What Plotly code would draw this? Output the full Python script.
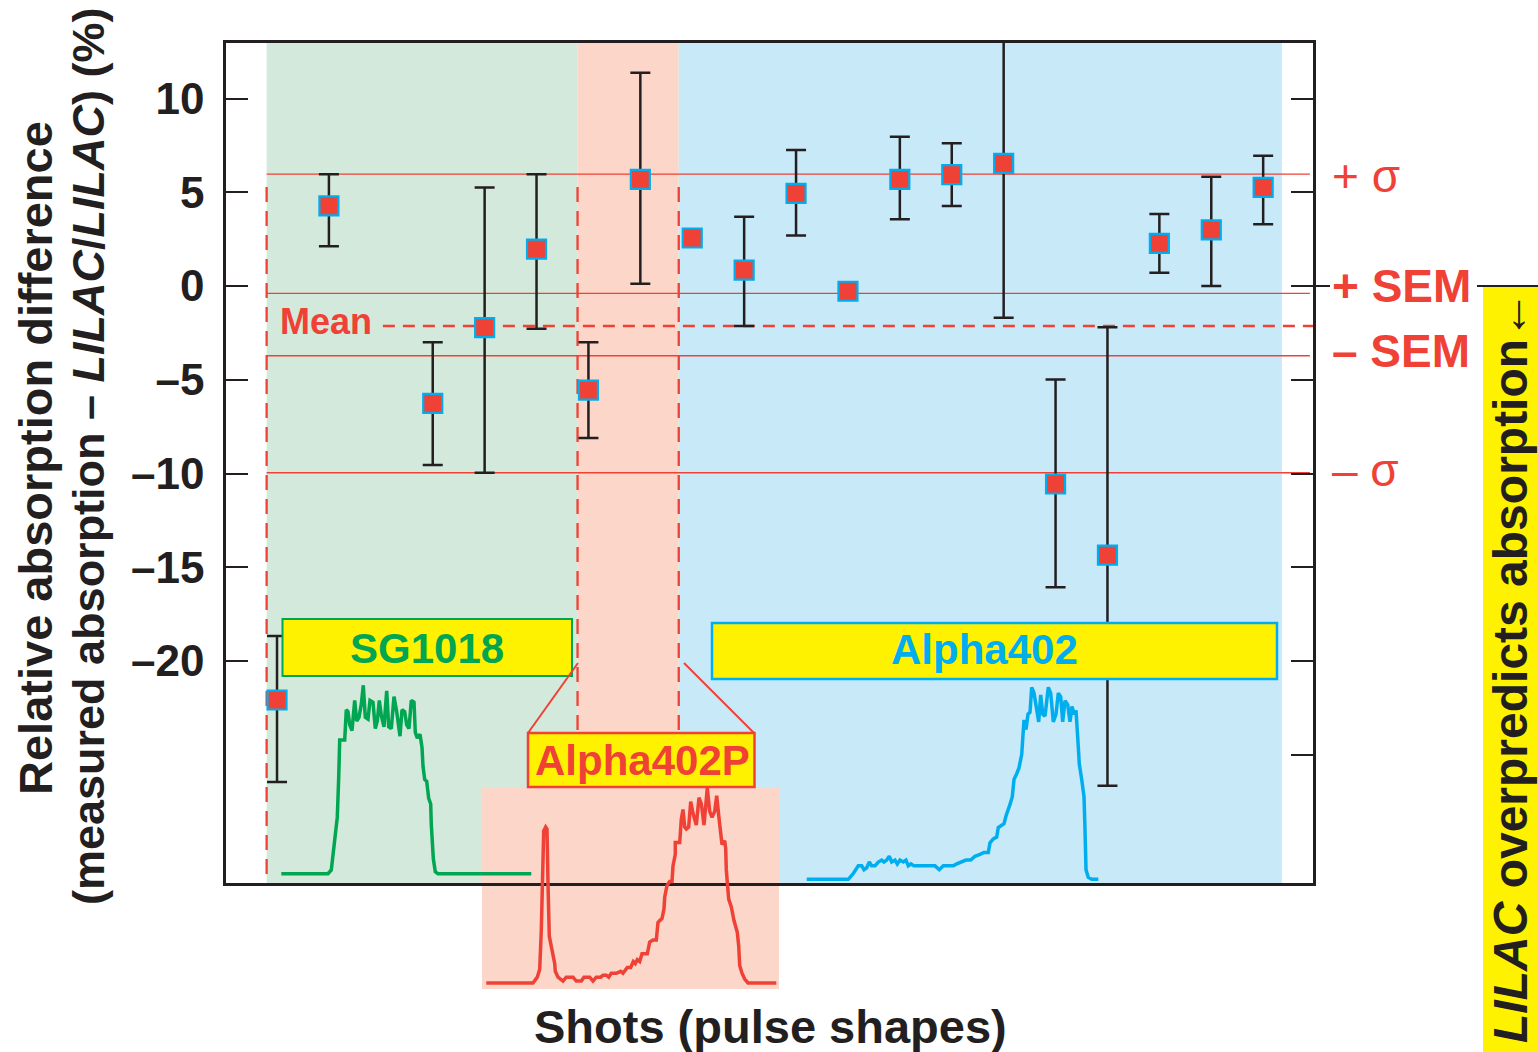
import plotly.graph_objects as go

W, H = 1538, 1052
FONT = "Liberation Sans, Arial, Helvetica, sans-serif"
INK = "#231F20"
RED = "#EF4136"
GREEN = "#00A651"
CYAN = "#00AEEF"
YELLOW = "#FFF200"
BG_GREEN = "#D3E9DB"
BG_PINK = "#FCD6C8"
BG_BLUE = "#C7E9F8"

# ---------------- data ----------------
shot_index = [0, 1, 3, 4, 5, 6, 7, 8, 9, 10, 11, 12, 13, 14, 15, 16, 17, 18, 19]
rel_diff = [-22.08, 4.27, -6.26, -2.22, 1.97, -5.55, 5.69, 2.56, 0.85, 4.94,
            -0.28, 5.69, 5.94, 6.54, -10.56, -14.35, 2.27, 2.99, 5.26]
err_plus = [3.41, 1.69, 3.26, 7.48, 3.99, 2.55, 5.69, 0, 2.85, 2.31,
            0, 2.27, 1.67, 8.23, 5.58, 12.15, 1.57, 2.84, 1.69]
err_minus = [4.37, 2.15, 3.29, 7.74, 4.25, 2.55, 5.57, 0, 2.98, 2.24,
             0, 2.13, 1.67, 8.23, 5.51, 12.3, 1.56, 2.99, 1.97]

stat_labels = ["+ σ", "+ SEM", "– SEM", "– σ"]
stat_values = [5.97, -0.39, -3.72, -9.96]
mean_value = -2.13

region_names = ["SG1018", "Alpha402P", "Alpha402"]
region_edges = [-0.2, 5.79, 7.74, 19.36]

ytick_vals = [10, 5, 0, -5, -10, -15, -20]
ytick_text = ["10", "5", "0", "–5", "–10", "–15", "–20"]
ytick_vals_right = [10, 5, 0, -5, -10, -15, -20, -25]

# pulse shapes (time in arbitrary units, power normalised to peak)
sg1018_t = [3.3, 50, 53.3, 56.7, 59.3, 60.7, 61.7, 65, 66.7, 68.3, 70, 71.7, 74, 76.7, 78.7, 81, 83.3,
            85.3, 87.3, 90, 92, 95, 97.3, 99.3, 101.3, 103.3, 106, 108.7, 110.7, 113.3, 116, 118.7,
            122, 124, 126.7, 128.7, 131, 133.3, 136, 137.3, 139.3, 142, 144, 145, 146.7, 148.7,
            150.7, 152.7, 153.3, 155.3, 157.3, 160, 253.3]
sg1018_p = [0, 0, 0.02, 0.19, 0.30, 0.51, 0.71, 0.71, 0.71, 0.87, 0.86, 0.79, 0.76, 0.92, 0.81, 0.83,
            0.90, 1.0, 0.83, 0.82, 0.92, 0.91, 0.77, 0.81, 0.92, 0.84, 0.78, 0.97, 0.78, 0.77, 0.94,
            0.86, 0.73, 0.87, 0.86, 0.79, 0.77, 0.92, 0.91, 0.75, 0.72, 0.74, 0.67, 0.57, 0.50, 0.49,
            0.40, 0.37, 0.26, 0.08, 0.01, 0, 0]

a402p_t = [8.3, 55, 59.3, 61.7, 63.3, 64.3, 65.7, 67.7, 69, 70, 71.3, 74, 76.7, 77.3, 80, 85, 88.3,
           95, 98.3, 103.3, 106, 111.7, 115, 118.3, 122.7, 125, 128.3, 130.7, 133.3, 138.3, 142.7,
           145, 149.3, 152.7, 155.3, 157.3, 159.3, 161.7, 164, 166, 169.3, 171.7, 175, 178.3, 180,
           181.7, 184, 186, 186.7, 189, 191.7, 194, 195, 197.3, 197.3, 200, 201.7, 203.3, 205,
           206.7, 208.3, 210.7, 212.7, 215, 218.3, 221, 223.3, 226, 229.3, 231.7, 234, 236.7,
           238.7, 240.7, 242.7, 244, 246.7, 247.7, 248.3, 250.7, 253.3, 256, 259.3, 260.7, 261.7,
           264, 266.7, 270, 298.3]
a402p_p = [0, 0, 0.03, 0.07, 0.27, 0.51, 0.78, 0.80, 0.79, 0.51, 0.24, 0.17, 0.10, 0.06, 0.03, 0.01,
           0.03, 0.03, 0.01, 0.01, 0.03, 0.03, 0.01, 0.03, 0.03, 0.04, 0.04, 0.03, 0.05, 0.05, 0.06,
           0.05, 0.08, 0.08, 0.11, 0.10, 0.12, 0.11, 0.15, 0.15, 0.15, 0.21, 0.22, 0.22, 0.31, 0.32,
           0.33, 0.38, 0.44, 0.50, 0.52, 0.52, 0.60, 0.66, 0.72, 0.72, 0.72, 0.84, 0.89, 0.80, 0.79,
           0.80, 0.93, 0.87, 0.81, 0.95, 0.92, 0.81, 1.0, 0.88, 0.85, 0.88, 0.96, 0.86, 0.77, 0.71,
           0.73, 0.69, 0.58, 0.43, 0.39, 0.32, 0.26, 0.19, 0.09, 0.05, 0.02, 0, 0]

a402_t = [6.7, 48.3, 50, 53.3, 58.3, 61.7, 64, 66.7, 69.3, 71.7, 75, 78.3, 81.7, 84, 86.7, 89.3, 91.7,
          95, 97.3, 100, 103.3, 106, 108.3, 111, 114, 118.3, 123.3, 130, 135, 139.3, 143.3, 148.3,
          153.3, 156.7, 161.7, 166, 170.7, 175, 180, 184, 188.3, 190, 193.3, 196.7, 198.3, 200.7,
          204, 206, 208.3, 210, 212.3, 214, 216.7, 219, 221.7, 222.7, 224, 226, 228, 230, 231.7,
          234, 236.7, 238.7, 240.7, 242.7, 245, 248.3, 250.7, 253.3, 256, 258.3, 260.7, 262.7, 265,
          267.7, 270, 272, 274.3, 276, 278.3, 279.3, 281.7, 284, 285, 286, 288.3, 291.7, 298.3]
a402_p = [0, 0, 0.01, 0.03, 0.07, 0.07, 0.05, 0.06, 0.09, 0.07, 0.07, 0.09, 0.10, 0.09, 0.10, 0.12,
          0.09, 0.10, 0.08, 0.10, 0.09, 0.10, 0.07, 0.08, 0.07, 0.07, 0.07, 0.07, 0.07, 0.05, 0.07,
          0.07, 0.07, 0.08, 0.09, 0.10, 0.10, 0.12, 0.13, 0.14, 0.14, 0.19, 0.21, 0.22, 0.27, 0.28,
          0.29, 0.33, 0.36, 0.39, 0.43, 0.52, 0.55, 0.58, 0.65, 0.76, 0.83, 0.78, 0.86, 0.87, 1.0,
          0.97, 0.87, 0.82, 0.96, 0.86, 0.85, 1.0, 0.97, 0.82, 0.86, 0.97, 0.95, 0.82, 0.93, 0.91,
          0.82, 0.90, 0.86, 0.88, 0.69, 0.60, 0.52, 0.43, 0.26, 0.05, 0.01, 0, 0]

# ---------------- layout helpers ----------------
def fx(px):
    return px / W


def fy(py):
    return 1 - py / H


L, R, T, B = 226, 1313, 43, 883
X_RANGE = [-0.983, 19.96]
Y_RANGE = [-31.84, 12.96]

fig = go.Figure()

# main data: points with error bars
fig.add_trace(go.Scatter(
    x=shot_index, y=rel_diff, mode="markers", xaxis="x", yaxis="y",
    marker=dict(symbol="square", size=19, color=RED, line=dict(color=CYAN, width=2.2)),
    error_y=dict(type="data", symmetric=False, array=err_plus, arrayminus=err_minus,
                 color=INK, thickness=2.5, width=10),
    showlegend=False, hoverinfo="skip"))

# invisible trace to activate right-hand tick axis
fig.add_trace(go.Scatter(x=[0], y=[0], xaxis="x", yaxis="y2", mode="markers",
                         marker=dict(opacity=0), showlegend=False, hoverinfo="skip"))

# pulse-shape insets: (t, p, color, axis n, px_left, px_right, base_py, peak_py, lo_py, hi_py)
insets = [
    (sg1018_t, sg1018_p, GREEN, 3, 278, 540, 873.7, 685.3, 882, 678),
    (a402p_t, a402p_p, RED, 4, 478, 783, 983.0, 788.0, 992, 780),
    (a402_t, a402_p, CYAN, 5, 800, 1105, 879.3, 687.3, 888, 682),
]
inset_axes = {}
for t, p, col, n, x0, x1, base, peak, lo, hi in insets:
    fig.add_trace(go.Scatter(x=t, y=p, mode="lines", xaxis=f"x{n}", yaxis=f"y{n}",
                             line=dict(color=col, width=3.5), showlegend=False, hoverinfo="skip"))
    scale = base - peak
    inset_axes[f"xaxis{n}"] = dict(domain=[fx(x0), fx(x1)], range=[0, x1 - x0], visible=False,
                                   anchor=f"y{n}", fixedrange=True)
    inset_axes[f"yaxis{n}"] = dict(domain=[fy(lo), fy(hi)],
                                   range=[(base - lo) / scale, (base - hi) / scale],
                                   visible=False, anchor=f"x{n}", fixedrange=True)

# ---------------- shapes ----------------
shapes = []
region_fills = [BG_GREEN, BG_PINK, BG_BLUE]
for i, col in enumerate(region_fills):
    shapes.append(dict(type="rect", xref="x", yref="paper", x0=region_edges[i], x1=region_edges[i + 1],
                       y0=fy(B), y1=fy(T), fillcolor=col, line=dict(width=0), layer="below"))
# pink box behind Alpha402P pulse
shapes.append(dict(type="rect", xref="paper", yref="paper", x0=fx(482), x1=fx(779), y0=fy(989), y1=fy(787),
                   fillcolor=BG_PINK, line=dict(width=0), layer="below"))
# sigma / SEM lines
for v in stat_values:
    shapes.append(dict(type="line", xref="x", yref="y", x0=region_edges[0], x1=19.9, y0=v, y1=v,
                       line=dict(color=RED, width=1.3), layer="below"))
# mean dashed line
shapes.append(dict(type="line", xref="x", yref="y", x0=2.04, x1=X_RANGE[1], y0=mean_value, y1=mean_value,
                   line=dict(color=RED, width=2.5, dash="12px,8px"), layer="below"))
# vertical dashed separators
for xv, ybot in [(region_edges[0], Y_RANGE[0]), (region_edges[1], -23.7), (region_edges[2], -23.7)]:
    shapes.append(dict(type="line", xref="x", yref="y", x0=xv, x1=xv, y0=5.28, y1=ybot,
                       line=dict(color=RED, width=2.3, dash="15px,9px"), layer="below"))
# label boxes
shapes.append(dict(type="rect", xref="paper", yref="paper", x0=fx(282.5), x1=fx(572), y0=fy(676), y1=fy(619),
                   fillcolor=YELLOW, line=dict(color=GREEN, width=2), layer="above"))
shapes.append(dict(type="rect", xref="paper", yref="paper", x0=fx(712), x1=fx(1277), y0=fy(679), y1=fy(623),
                   fillcolor=YELLOW, line=dict(color=CYAN, width=2.5), layer="above"))
shapes.append(dict(type="rect", xref="paper", yref="paper", x0=fx(528), x1=fx(754.5), y0=fy(787), y1=fy(733),
                   fillcolor=YELLOW, line=dict(color=RED, width=2.5), layer="above"))
# connectors to Alpha402P box
shapes.append(dict(type="line", xref="paper", yref="paper", x0=fx(578), y0=fy(663), x1=fx(528), y1=fy(733),
                   line=dict(color=RED, width=2), layer="above"))
shapes.append(dict(type="line", xref="paper", yref="paper", x0=fx(684), y0=fy(663), x1=fx(754), y1=fy(733),
                   line=dict(color=RED, width=2), layer="above"))
# right side yellow box
shapes.append(dict(type="rect", xref="paper", yref="paper", x0=fx(1483), x1=fx(1540), y0=fy(1054), y1=fy(287),
                   fillcolor=YELLOW, line=dict(width=0), layer="above"))
shapes.append(dict(type="line", xref="paper", yref="y", x0=fx(1477), x1=fx(1540), y0=0, y1=0,
                   line=dict(color=INK, width=2), layer="above"))
shapes.append(dict(type="line", xref="paper", yref="y", x0=fx(1300), x1=fx(1330), y0=0, y1=0,
                   line=dict(color=INK, width=2), layer="above"))

# ---------------- annotations ----------------
ann = []


def text(px, py, s, size, color=INK, xanchor="center", angle=0):
    ann.append(dict(xref="paper", yref="paper", x=fx(px), y=fy(py), text=s, showarrow=False,
                    xanchor=xanchor, yanchor="middle", textangle=angle,
                    font=dict(family=FONT, size=size, color=color)))


text(35, 458, "<b>Relative absorption difference</b>", 47, angle=-90)
text(89, 456, "<b>(measured absorption – <i>LILAC</i>/<i>LILAC</i>) (%)</b>", 45, angle=-90)
text(770, 1026, "<b>Shots (pulse shapes)</b>", 47)
text(1510, 667, "<b><i>LILAC</i> overpredicts absorption←</b>", 48, angle=-90)
text(278, 321.5, "<b>Mean</b>", 36, RED, xanchor="left")
for lab, py in zip(stat_labels, [176, 286, 350.5, 470]):
    if "SEM" in lab:
        s = f"<b>{lab}</b>"
    else:
        s = lab
    text(1330, py, s, 46, RED, xanchor="left")
text(427, 648.5, "<b>" + region_names[0] + "</b>", 42, GREEN)
text(642, 760, "<b>" + region_names[1] + "</b>", 42, RED)
text(984.5, 649, "<b>" + region_names[2] + "</b>", 42, CYAN)

fig.update_layout(
    width=W, height=H, autosize=False,
    margin=dict(l=0, r=0, t=0, b=0),
    paper_bgcolor="white", plot_bgcolor="rgba(0,0,0,0)",
    font=dict(family=FONT, color=INK),
    showlegend=False,
    xaxis=dict(domain=[fx(L), fx(R)], range=X_RANGE, showline=True, mirror=True, linecolor=INK,
               linewidth=2.5, ticks="", showticklabels=False, showgrid=False, zeroline=False,
               anchor="y", fixedrange=True),
    yaxis=dict(domain=[fy(B), fy(T)], range=Y_RANGE, tickvals=ytick_vals, ticktext=ytick_text,
               ticks="inside", ticklen=22, tickwidth=2.2, tickcolor=INK, showline=True, mirror=True,
               linecolor=INK, linewidth=2.5, showgrid=False, zeroline=False, anchor="x",
               ticklabelstandoff=10,
               tickfont=dict(family=FONT, size=44, color=INK, weight="bold"), fixedrange=True),
    yaxis2=dict(overlaying="y", side="right", anchor="x", range=Y_RANGE, tickvals=ytick_vals_right,
                ticks="inside", ticklen=22, tickwidth=2.2, tickcolor=INK, showticklabels=False,
                showline=False, showgrid=False, zeroline=False, fixedrange=True),
    shapes=shapes,
    annotations=ann,
    **inset_axes,
)

fig.write_html(
    "out.html",
    config={"displayModeBar": False},
    post_script="document.body.style.margin='0';document.body.style.overflow='hidden';",
)
